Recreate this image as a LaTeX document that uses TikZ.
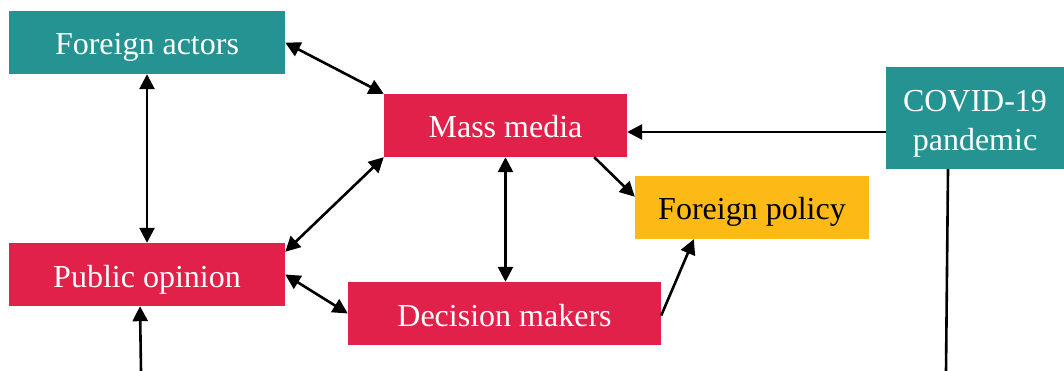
\documentclass[tikz,border=0pt]{standalone}
\usepackage{fontspec}
\setmainfont{Liberation Serif}
\usetikzlibrary{arrows.meta,calc}
\definecolor{teal1}{HTML}{259391}
\definecolor{red1}{HTML}{E1214A}
\definecolor{yel1}{HTML}{FDBA16}
\begin{document}
\begin{tikzpicture}[x=1pt,y=-1pt,
  box/.style={rectangle,inner sep=0pt,minimum height=63pt,font=\fontsize{32}{39}\selectfont,align=center,text height=25pt,text depth=0pt},
  tealbox/.style={box,fill=teal1,text=white},
  redbox/.style={box,fill=red1,text=white},
  yelbox/.style={box,fill=yel1,text=black},
  conn/.style={line width=2.6pt,-{Triangle[length=15pt,width=15pt]}},
  bconn/.style={line width=2.6pt,{Triangle[length=15pt,width=15pt]}-{Triangle[length=15pt,width=15pt]}},
  plain/.style={line width=2.6pt}]
\useasboundingbox (0,0) rectangle (1064,371);
\node[tealbox,minimum width=276pt] (fa) at (147,42.5) {Foreign actors};
\node[redbox,minimum width=243pt] (mm) at (505.5,125.5) {Mass media};
\node[tealbox,minimum width=178pt,minimum height=102pt,text height=25pt,text depth=37pt] (cv) at (975,118) {\begin{tabular}[t]{@{}c@{}}COVID-19\\pandemic\end{tabular}};
\node[yelbox,minimum width=234pt] (fp) at (752,207.5) {Foreign policy};
\node[redbox,minimum width=276pt] (po) at (147,274.5) {Public opinion};
\node[redbox,minimum width=313pt] (dm) at (504.5,313.5) {Decision makers};
\coordinate (cvend) at (946,371);
\coordinate (poend) at (141,371);
\coordinate (cvout) at ([yshift=-14pt]cv.west);
\draw[bconn] (fa.east) -- (mm.north west);
\draw[bconn] (fa.south) -- (po.north);
\draw[bconn] (mm.south west) -- ([yshift=-9pt]po.north east);
\draw[bconn] (po.east) -- (dm.west);
\draw[bconn] (mm.south) -- (mm.south |- dm.north);
\draw[conn] ([xshift=-33pt]mm.south east) -- ([yshift=-21pt]fp.north west);
\draw[conn] ([yshift=-2pt]dm.east) -- ([xshift=59pt]fp.south west);
\draw[conn] (cvout) -- (mm.east |- cvout);
\draw[plain] ([xshift=-27pt]cv.south) -- (cvend);
\draw[conn] (poend) -- ([xshift=-7pt]po.south);
\end{tikzpicture}
\end{document}
